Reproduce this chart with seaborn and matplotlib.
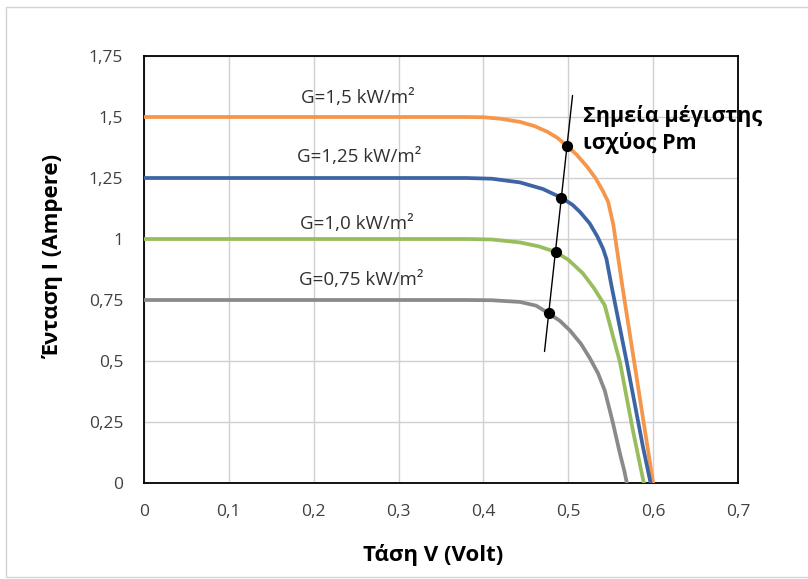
import matplotlib
matplotlib.use("Agg")
import matplotlib.pyplot as plt
from matplotlib.patches import Rectangle
import seaborn as sns
import pandas as pd

# I-V characteristics of a PV cell for four irradiance levels
g15_v = [0, 0.38, 0.40, 0.42, 0.443, 0.46, 0.475, 0.487, 0.498, 0.51, 0.522, 0.532,
         0.541, 0.547, 0.553, 0.564, 0.600]
g15_i = [1.5, 1.5, 1.499, 1.493, 1.48, 1.463, 1.44, 1.415, 1.383, 1.345, 1.297, 1.25,
         1.195, 1.152, 1.06, 0.80, 0.0]

g125_v = [0, 0.38, 0.41, 0.443, 0.47, 0.492, 0.505, 0.514, 0.525, 0.534, 0.541, 0.545,
          0.551, 0.569, 0.588, 0.597]
g125_i = [1.25, 1.25, 1.247, 1.232, 1.205, 1.169, 1.14, 1.11, 1.065, 1.012, 0.96, 0.918,
          0.807, 0.494, 0.148, 0.0]

g10_v = [0, 0.38, 0.41, 0.443, 0.465, 0.485, 0.50, 0.517, 0.53, 0.543, 0.552, 0.561,
         0.576, 0.589]
g10_i = [1.0, 1.0, 0.998, 0.986, 0.97, 0.947, 0.915, 0.86, 0.80, 0.728, 0.61, 0.494,
         0.218, 0.0]

g075_v = [0, 0.38, 0.41, 0.443, 0.462, 0.477, 0.49, 0.502, 0.515, 0.525, 0.535, 0.543,
          0.552, 0.561, 0.566, 0.569]
g075_i = [0.75, 0.75, 0.749, 0.742, 0.727, 0.695, 0.665, 0.625, 0.57, 0.514, 0.45, 0.379,
          0.255, 0.119, 0.05, 0.0]

series_names = ["G=1,5 kW/m²", "G=1,25 kW/m²", "G=1,0 kW/m²", "G=0,75 kW/m²"]
series_colors = ["#F5964B", "#3D65A6", "#98BD5C", "#8A8A8A"]

# maximum power points and the line drawn through them
mpp_v = [0.498, 0.492, 0.485, 0.477]
mpp_i = [1.383, 1.169, 0.947, 0.695]
mpp_line_v = [0.472, 0.505]
mpp_line_i = [0.539, 1.588]

x_ticks = [0, 0.1, 0.2, 0.3, 0.4, 0.5, 0.6, 0.7]
x_tick_labels = ["0", "0,1", "0,2", "0,3", "0,4", "0,5", "0,6", "0,7"]
y_ticks = [0, 0.25, 0.5, 0.75, 1.0, 1.25, 1.5, 1.75]
y_tick_labels = ["0", "0,25", "0,5", "0,75", "1", "1,25", "1,5", "1,75"]

frames = []
for name, v, i in zip(series_names,
                      [g15_v, g125_v, g10_v, g075_v],
                      [g15_i, g125_i, g10_i, g075_i]):
    frames.append(pd.DataFrame({"V": v, "I": i, "G": name}))
df = pd.concat(frames, ignore_index=True)

sns.set_theme(style="white")
plt.rcParams["font.family"] = ["Open Sans", "DejaVu Sans"]

W, H = 808, 579
fig = plt.figure(figsize=(W / 100, H / 100), dpi=100)
fig.patch.set_facecolor("white")
ax = fig.add_axes([144 / W, 1 - 483 / H, (738 - 144) / W, (483 - 56) / H])

# outer chart border
fig.patches.append(Rectangle((6 / W, 2 / H), 1.2, 570 / H, transform=fig.transFigure,
                             fill=False, edgecolor="#d4d4d4", linewidth=1.0, zorder=0))

sns.lineplot(data=df, x="V", y="I", hue="G", palette=dict(zip(series_names, series_colors)),
             sort=False, estimator=None, linewidth=2.7, legend=False, ax=ax, zorder=3)

sns.lineplot(x=mpp_line_v, y=mpp_line_i, color="black", linewidth=1.0, ax=ax,
             sort=False, estimator=None, zorder=4)
sns.scatterplot(x=mpp_v, y=mpp_i, color="black", s=65, edgecolor="black", linewidth=0,
                ax=ax, zorder=5)

ax.set_xlim(0, 0.7)
ax.set_ylim(0, 1.75)
ax.set_xticks(x_ticks)
ax.set_xticklabels(x_tick_labels)
ax.set_yticks(y_ticks)
ax.set_yticklabels(y_tick_labels)
ax.tick_params(axis="both", direction="in", length=5, width=1, color="#404040",
               labelsize=12.5, labelcolor="#404040", pad=15)
ax.grid(True, color="#d0d0d0", linewidth=1.0)
ax.set_axisbelow(True)
for sp in ax.spines.values():
    sp.set_color("black")
    sp.set_linewidth(1.3)
ax.set_xlabel("")
ax.set_ylabel("")

# axis titles
fig.text(433 / W, 1 - 555 / H, "Τάση V (Volt)", fontsize=16, fontweight="bold",
         color="black", ha="center", va="center")
fig.text(54 / W, 1 - 257 / H, "Ένταση I (Ampere)", fontsize=16, fontweight="bold",
         color="black", ha="center", va="center", rotation=90)

# curve labels
label_pos = [(0.252, 1.578), (0.254, 1.336), (0.251, 1.061), (0.256, 0.832)]
for (lx, ly), name in zip(label_pos, series_names):
    ax.text(lx, ly, name, fontsize=13.5, color="#303030", ha="center", va="center")

ax.text(0.517, 1.45, "Σημεία μέγιστης\nισχύος Pm", fontsize=15.5, fontweight="bold",
        color="black", ha="left", va="center", linespacing=1.3)

fig.savefig("out.png", dpi=100, facecolor="white")
